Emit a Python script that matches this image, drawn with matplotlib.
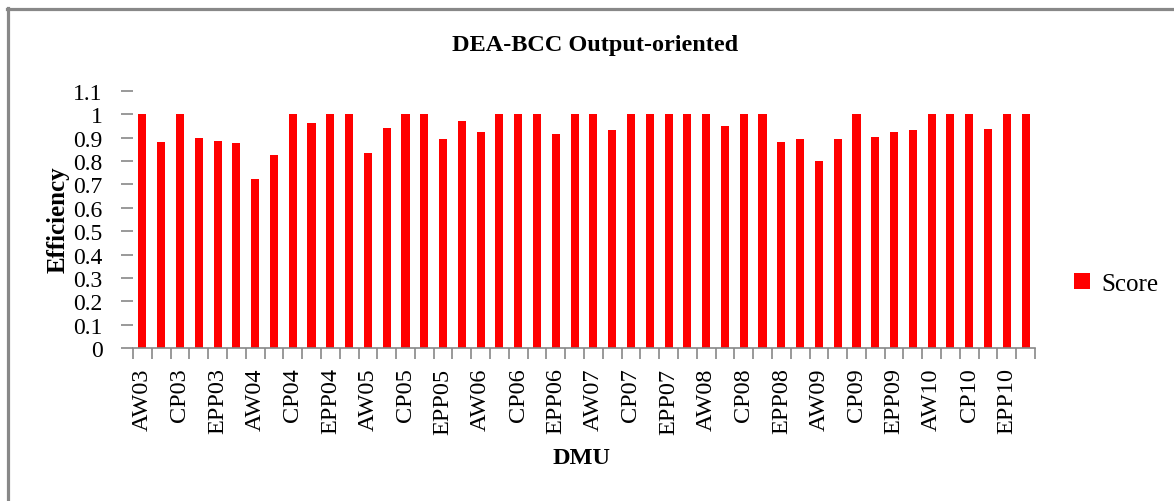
import numpy as np
import matplotlib
matplotlib.use("Agg")
import matplotlib.pyplot as plt
from matplotlib.lines import Line2D
from matplotlib.patches import Patch

plt.rcParams['font.family'] = ['Liberation Serif', 'DejaVu Serif']

# ---- data ----
scores = [1.00, 0.88, 1.00, 0.897, 0.885, 0.876, 0.722, 0.825, 1.00, 0.962,
          1.00, 1.00, 0.833, 0.94, 1.00, 1.00, 0.893, 0.97, 0.923, 1.00,
          1.00, 1.00, 0.915, 1.00, 1.00, 0.932, 1.00, 1.00, 1.00, 1.00,
          1.00, 0.949, 1.00, 1.00, 0.88, 0.893, 0.799, 0.893, 1.00, 0.902,
          0.923, 0.932, 1.00, 1.00, 1.00, 0.936, 1.00, 1.00]
shown_labels = ['AW03', 'CP03', 'EPP03', 'AW04', 'CP04', 'EPP04',
                'AW05', 'CP05', 'EPP05', 'AW06', 'CP06', 'EPP06',
                'AW07', 'CP07', 'EPP07', 'AW08', 'CP08', 'EPP08',
                'AW09', 'CP09', 'EPP09', 'AW10', 'CP10', 'EPP10']
y_ticks = [0, 0.1, 0.2, 0.3, 0.4, 0.5, 0.6, 0.7, 0.8, 0.9, 1.0, 1.1]
y_tick_labels = ['0', '0.1', '0.2', '0.3', '0.4', '0.5', '0.6', '0.7',
                 '0.8', '0.9', '1', '1.1']
series_name = 'Score'
title = 'DEA-BCC Output-oriented'
x_title = 'DMU'
y_title = 'Efficiency'

W, H = 1174, 502
fig = plt.figure(figsize=(W / 100, H / 100), dpi=100)
ax = fig.add_axes([133 / W, 1 - 349 / H, (1035 - 133) / W, (349 - 92) / H])

n = len(scores)
x = np.arange(n)
ax.bar(x, scores, width=0.43, color='#FF0000', label=series_name)

ax.set_xlim(-0.5, n - 0.5)
ax.set_ylim(0, 1.1)

gray = '#888888'
for s in ['top', 'right', 'left']:
    ax.spines[s].set_visible(False)
ax.spines['bottom'].set_color(gray)
ax.spines['bottom'].set_linewidth(1.2)

ax.set_yticks(y_ticks)
ax.set_yticklabels(y_tick_labels, fontsize=17)
ax.tick_params(axis='y', direction='out', length=9, width=1.2, color=gray, pad=13)

ax.set_xticks(np.arange(0, n, 2))
ax.set_xticklabels(shown_labels, rotation=90, fontsize=17.5)
ax.tick_params(axis='x', which='major', length=0, pad=14)
ax.set_xticks(np.arange(-0.5, n, 1), minor=True)
ax.tick_params(axis='x', which='minor', direction='out', length=8, width=1.2, color=gray)

fig.text(595 / W, 1 - 46 / H, title, ha='center', va='center',
         fontsize=17.5, fontweight='bold')
fig.text(582 / W, 1 - 459 / H, x_title, ha='center', va='center',
         fontsize=17.5, fontweight='bold')
fig.text(58 / W, 1 - 220 / H, y_title, ha='center', va='center',
         rotation=90, fontsize=18, fontweight='bold')

handle = Patch(facecolor='#FF0000', edgecolor='none')
fig.legend([handle], [series_name], loc='center left',
           bbox_to_anchor=(1074 / W, 1 - 285 / H), frameon=False,
           fontsize=18, handlelength=0.65, handleheight=0.6,
           handletextpad=0.45, borderpad=0, borderaxespad=0)

# outer chart border (top and left visible)
fig.add_artist(Line2D([6.5 / W, 1.0], [1 - 9.5 / H, 1 - 9.5 / H],
                      transform=fig.transFigure, color=gray, lw=2.3))
fig.add_artist(Line2D([7.5 / W, 7.5 / W], [0, 1 - 8.5 / H],
                      transform=fig.transFigure, color=gray, lw=2.3))

fig.savefig('out.png', dpi=100)
